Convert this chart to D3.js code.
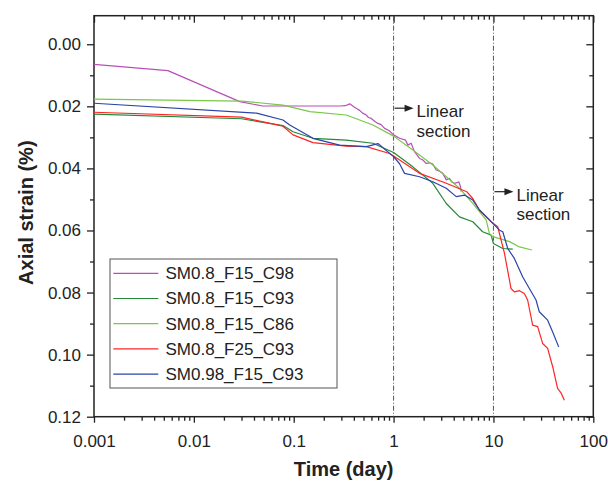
<!DOCTYPE html>
<html>
<head>
<meta charset="utf-8">
<script src="https://cdn.jsdelivr.net/npm/d3@7"></script>
<style>
  body { margin: 0; background: #fff; }
  svg text { font-family: "Liberation Sans", Arial, sans-serif; fill: #222; }
</style>
</head>
<body>
<div id="chart"></div>
<script>
// time (day), axial strain (%)
const sm08_f15_c98 = [
  [0.001, 0.0065], [0.0055, 0.0085], [0.0288, 0.0185], [0.049, 0.0199], [0.29, 0.0199],
  [0.33, 0.0198], [0.363, 0.0192], [0.407, 0.0203], [0.43, 0.0208], [0.457, 0.0213],
  [0.49, 0.0222], [0.533, 0.0228], [0.56, 0.0236], [0.598, 0.0239], [0.65, 0.0249],
  [0.697, 0.0255], [0.75, 0.0259], [0.813, 0.0271], [0.9, 0.0278], [1.0, 0.0292],
  [1.148, 0.0303], [1.318, 0.0309], [1.39, 0.0325], [1.5, 0.0319], [1.62, 0.0346],
  [1.82, 0.0368], [1.95, 0.0372], [2.12, 0.0384], [2.3, 0.0382], [2.47, 0.0386],
  [2.67, 0.0405], [2.85, 0.0408], [3.11, 0.0416], [3.37, 0.0437], [3.63, 0.0432],
  [3.85, 0.0444], [4.07, 0.0448], [4.3, 0.0446], [4.5, 0.0443], [4.68, 0.0459], [4.75, 0.0475]
];
const sm08_f15_c93 = [
  [0.001, 0.0225], [0.03, 0.024], [0.078, 0.0262], [0.0985, 0.0282], [0.156, 0.0303],
  [0.336, 0.0309], [0.621, 0.0319], [1.0, 0.0349], [1.56, 0.0395], [2.47, 0.0448],
  [3.37, 0.0513], [4.57, 0.0556], [6.21, 0.0572], [7.8, 0.0604], [9.48, 0.0615],
  [10.0, 0.0642], [12.4, 0.0658], [15.6, 0.066]
];
const sm08_f15_c86 = [
  [0.001, 0.0177], [0.03, 0.0183], [0.078, 0.0196], [0.145, 0.0217], [0.336, 0.0228],
  [0.621, 0.026], [1.0, 0.0296], [1.56, 0.0341], [2.47, 0.0389], [4.57, 0.0464],
  [6.21, 0.0513], [8.45, 0.0566], [9.12, 0.061], [9.85, 0.062], [14.5, 0.0636],
  [18.2, 0.0653], [24.3, 0.0663]
];
const sm08_f25_c93 = [
  [0.001, 0.0219], [0.03, 0.0235], [0.078, 0.0264], [0.0985, 0.0292], [0.156, 0.0317],
  [0.336, 0.0328], [0.533, 0.033], [0.912, 0.0352], [1.0, 0.036], [1.82, 0.0416],
  [3.37, 0.0448], [5.4, 0.0475], [6.21, 0.0497], [7.24, 0.0534], [9.48, 0.0572],
  [11.04, 0.0588], [12.9, 0.0674], [15.0, 0.0787], [16.2, 0.0798], [18.2, 0.0794],
  [20.4, 0.0803], [22.0, 0.0824], [24.7, 0.0905], [27.7, 0.091], [31.1, 0.0964],
  [34.9, 0.098], [39.2, 0.1039], [43.9, 0.1109], [47.5, 0.1123], [51.3, 0.1147]
];
const sm098_f15_c93 = [
  [0.001, 0.019], [0.0424, 0.0222], [0.078, 0.0244], [0.0912, 0.026], [0.156, 0.0303],
  [0.288, 0.0325], [0.533, 0.033], [0.697, 0.032], [1.0, 0.0362], [1.148, 0.0385],
  [1.288, 0.0416], [1.82, 0.0427], [2.47, 0.0443], [3.37, 0.0464], [4.24, 0.0491],
  [5.13, 0.0486], [6.21, 0.0502], [7.24, 0.0534], [9.12, 0.0566], [9.85, 0.0577],
  [11.5, 0.0599], [12.4, 0.0604], [13.9, 0.0658], [16.2, 0.069], [19.6, 0.0749],
  [22.9, 0.0787], [26.7, 0.0824], [28.8, 0.0862], [34.9, 0.0889], [39.2, 0.0927],
  [45.0, 0.0975]
];

const seriesNames = ["SM0.8_F15_C98", "SM0.8_F15_C93", "SM0.8_F15_C86", "SM0.8_F25_C93", "SM0.98_F15_C93"];
const seriesData = [sm08_f15_c98, sm08_f15_c93, sm08_f15_c86, sm08_f25_c93, sm098_f15_c93];
const seriesColors = ["#b84fb8", "#24883a", "#79c84a", "#ff2424", "#2a44a8"];

const xTicks = [0.001, 0.01, 0.1, 1, 10, 100];
const xTickLabels = ["0.001", "0.01", "0.1", "1", "10", "100"];
const yTicks = [0, 0.02, 0.04, 0.06, 0.08, 0.1, 0.12];
const yTickLabels = ["0.00", "0.02", "0.04", "0.06", "0.08", "0.10", "0.12"];
const linearMarks = [1, 10];

// chart dimensions
const W = 608, H = 485;
const margin = { top: 15.7, right: 14.7, bottom: 68.3, left: 94 };
const width = W - margin.left - margin.right;
const height = H - margin.top - margin.bottom;

const svg = d3.select("#chart").append("svg")
  .attr("width", W).attr("height", H);
const g = svg.append("g").attr("transform", `translate(${margin.left},${margin.top})`);

const x = d3.scaleLog().domain([0.001, 100]).range([0, width]);
const y = d3.scaleLinear().domain([-0.0092, 0.12]).range([0, height]);

// minor ticks
const xMinor = [];
for (let p = -3; p < 2; p++) for (let k = 2; k <= 9; k++) xMinor.push(k * Math.pow(10, p));
const yMinor = [0.01, 0.03, 0.05, 0.07, 0.09, 0.11];

function styleAxis(sel) {
  sel.select(".domain").remove();
  sel.selectAll("line").attr("stroke", "#222").attr("stroke-width", 1.3);
  sel.selectAll("text").style("font-size", "17px").attr("fill", "#222");
}

// bottom
g.append("g").attr("transform", `translate(0,${height})`)
  .call(d3.axisBottom(x).tickValues(xTicks).tickFormat((d, i) => xTickLabels[i]).tickSize(6).tickPadding(12))
  .call(styleAxis);
g.append("g").attr("transform", `translate(0,${height})`)
  .call(d3.axisBottom(x).tickValues(xMinor).tickFormat("").tickSize(4))
  .call(styleAxis);
// top
g.append("g")
  .call(d3.axisTop(x).tickValues(xTicks).tickFormat("").tickSize(-7))
  .call(styleAxis);
g.append("g")
  .call(d3.axisTop(x).tickValues(xMinor).tickFormat("").tickSize(-4))
  .call(styleAxis);
// left
g.append("g")
  .call(d3.axisLeft(y).tickValues(yTicks).tickFormat((d, i) => yTickLabels[i]).tickSize(7).tickPadding(6))
  .call(styleAxis);
g.append("g")
  .call(d3.axisLeft(y).tickValues(yMinor).tickFormat("").tickSize(4))
  .call(styleAxis);
// right
g.append("g").attr("transform", `translate(${width},0)`)
  .call(d3.axisRight(y).tickValues(yTicks).tickFormat("").tickSize(-7))
  .call(styleAxis);
g.append("g").attr("transform", `translate(${width},0)`)
  .call(d3.axisRight(y).tickValues(yMinor).tickFormat("").tickSize(-4))
  .call(styleAxis);

// frame
g.append("rect")
  .attr("width", width).attr("height", height)
  .attr("fill", "none").attr("stroke", "#222").attr("stroke-width", 1.5);

// dash-dot reference lines
g.selectAll(".vline").data(linearMarks).enter().append("line")
  .attr("class", "vline")
  .attr("x1", d => x(d)).attr("x2", d => x(d))
  .attr("y1", 0).attr("y2", height)
  .attr("stroke", "#555").attr("stroke-width", 1)
  .attr("stroke-dasharray", "5,2,1,2");

// series lines
const line = d3.line().x(d => x(d[0])).y(d => y(d[1]));
seriesData.forEach((data, i) => {
  g.append("path")
    .datum(data)
    .attr("fill", "none")
    .attr("stroke", seriesColors[i])
    .attr("stroke-width", 1.2)
    .attr("stroke-linejoin", "round")
    .attr("d", line);
});

// "Linear section" annotations
const notes = [
  { t: 1, v: 0.0206 },
  { t: 10, v: 0.0475 }
];
notes.forEach(n => {
  const ax = x(n.t), ay = y(n.v);
  g.append("line")
    .attr("x1", ax + 1).attr("x2", ax + 12)
    .attr("y1", ay).attr("y2", ay)
    .attr("stroke", "#222").attr("stroke-width", 1.2);
  g.append("path")
    .attr("d", `M${ax + 11},${ay - 3.5}L${ax + 20},${ay}L${ax + 11},${ay + 3.5}Z`)
    .attr("fill", "#222");
  const t = g.append("text").style("font-size", "17px").attr("x", ax + 23);
  t.append("tspan").attr("x", ax + 23).attr("y", ay + 9).text("Linear");
  t.append("tspan").attr("x", ax + 23).attr("y", ay + 28.5).text("section");
});

// legend
const legend = svg.append("g").attr("transform", "translate(110,259)");
legend.append("rect")
  .attr("width", 227).attr("height", 129)
  .attr("fill", "#fff").attr("stroke", "#555").attr("stroke-width", 1);
seriesNames.forEach((name, i) => {
  const row = legend.append("g").attr("transform", `translate(0,${14.3 + i * 25.2})`);
  row.append("line")
    .attr("x1", 3.3).attr("x2", 48.3)
    .attr("stroke", seriesColors[i]).attr("stroke-width", 1.2);
  row.append("text")
    .attr("x", 55.5).attr("dy", "0.35em")
    .style("font-size", "17px")
    .text(name);
});

// axis titles
svg.append("text")
  .attr("x", margin.left + width / 2).attr("y", 476)
  .attr("text-anchor", "middle")
  .style("font-size", "20px").style("font-weight", "bold")
  .text("Time (day)");
svg.append("text")
  .attr("transform", `translate(33,${margin.top + 197}) rotate(-90)`)
  .attr("text-anchor", "middle")
  .style("font-size", "20px").style("font-weight", "bold")
  .text("Axial strain (%)");
</script>
</body>
</html>
